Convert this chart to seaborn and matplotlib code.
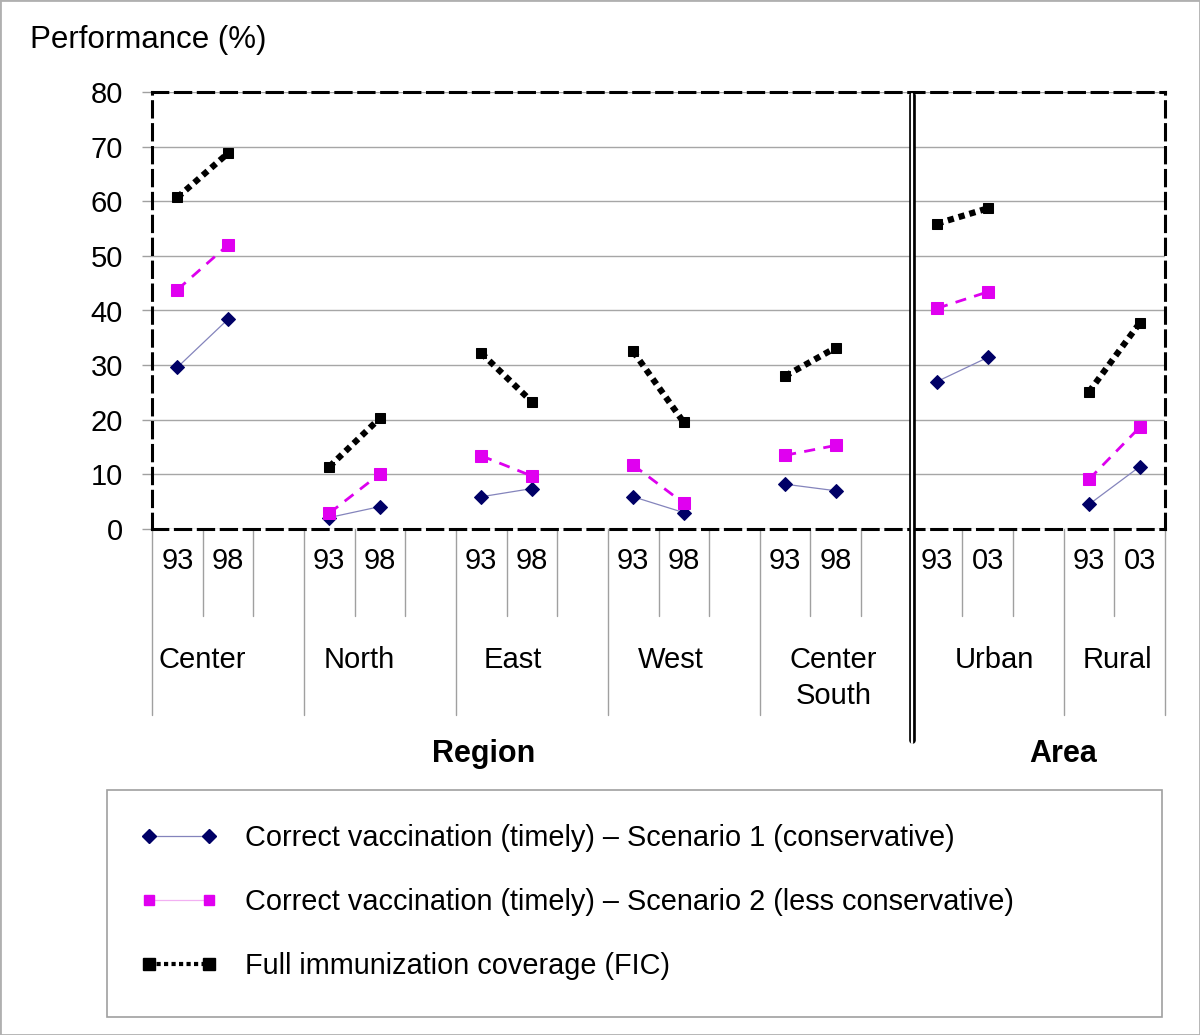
import numpy as np
import pandas as pd
import matplotlib.pyplot as plt
from matplotlib.lines import Line2D
from matplotlib.patches import Rectangle
import seaborn as sns

# Datos (primer y segundo levantamiento por grupo)
groups = ['Center', 'North', 'East', 'West', 'Center\nSouth', 'Urban', 'Rural']
year_first = ['93', '93', '93', '93', '93', '93', '93']
year_second = ['98', '98', '98', '98', '98', '03', '03']

s1_first = [29.6, 2.1, 5.9, 5.9, 8.2, 27.0, 4.5]
s1_second = [38.4, 4.1, 7.4, 3.0, 7.0, 31.4, 11.4]
s2_first = [43.8, 2.9, 13.4, 11.7, 13.5, 40.4, 9.1]
s2_second = [52.0, 10.1, 9.7, 4.7, 15.3, 43.4, 18.6]
fic_first = [60.7, 11.4, 32.2, 32.5, 28.0, 55.9, 25.1]
fic_second = [68.8, 20.3, 23.3, 19.5, 33.2, 58.7, 37.7]

labels = ['Correct vaccination (timely) \u2013 Scenario 1 (conservative)',
          'Correct vaccination (timely) \u2013 Scenario 2 (less conservative)',
          'Full immunization coverage (FIC)']

sns.set_style('white')
plt.rcParams['font.family'] = ['Liberation Sans', 'DejaVu Sans']
plt.rcParams['text.color'] = 'black'
plt.rcParams['xtick.color'] = 'black'
plt.rcParams['ytick.color'] = 'black'

# tabla larga: cada grupo ocupa 3 casillas (la tercera vacia)
rows = []
series = [('S1', s1_first, s1_second), ('S2', s2_first, s2_second), ('FIC', fic_first, fic_second)]
for name, first, second in series:
    for g in range(len(groups)):
        rows.append(dict(series=name, group=g, slot=3 * g, value=first[g]))
        rows.append(dict(series=name, group=g, slot=3 * g + 1, value=second[g]))
df = pd.DataFrame(rows)

estilos = {
    'S1': dict(color='#8484bc', lw=0.9, ls='-', marker='D', ms=6.8, mfc='#000066', mec='#000066', zorder=3),
    'S2': dict(color='#dd00ee', lw=2.0, ls=(0, (4, 3)), marker='s', ms=8.5, mfc='#e000f0', mec='#e000f0', zorder=4),
    'FIC': dict(color='black', lw=4.5, ls=(0, (1, 0.8)), marker='s', ms=7, mfc='black', mec='black', zorder=5),
}

fig = plt.figure(figsize=(12, 10.35), dpi=100)
ax = fig.add_axes([0.1267, 0.4889, 0.8441, 0.4222])

for name, _, _ in series:
    sns.lineplot(data=df[df.series == name], x='slot', y='value', units='group',
                 estimator=None, sort=False, legend=False, ax=ax, **estilos[name])

n_slots = 3 * (len(groups) - 1) + 2
ax.set_xlim(-0.5, n_slots - 0.5)
ax.set_ylim(0, 80)
ax.set_yticks(range(0, 81, 10))
ax.yaxis.grid(True, color='#a6a6a6', lw=1)
ax.set_axisbelow(True)
ax.set_xlabel('')
ax.set_ylabel('')

xt = []
xl = []
for g in range(len(groups)):
    xt += [3 * g, 3 * g + 1]
    xl += [year_first[g], year_second[g]]
ax.set_xticks(xt)
ax.set_xticklabels(xl)
ax.tick_params(axis='x', length=0, pad=13, labelsize=21)
ax.tick_params(axis='y', left=True, length=7, width=1, color='#a0a0a0', pad=14, labelsize=21)

for sp in ax.spines.values():
    sp.set_visible(True)
    sp.set_color('black')
    sp.set_linewidth(2.2)
    sp.set_linestyle((0, (5, 2.5)))

# lineas de la categoria bajo el eje
tr = ax.get_xaxis_transform()
largas = [-0.5, 2.5, 5.5, 8.5, 11.5, 17.5, n_slots - 0.5]
for x in largas:
    ax.plot([x, x], [0, -0.426], transform=tr, color='#a0a0a0', lw=1, clip_on=False, zorder=1)
cortas = [3 * g + 0.5 for g in range(len(groups))] + [3 * g + 1.5 for g in range(len(groups) - 1)]
for x in cortas:
    ax.plot([x, x], [0, -0.199], transform=tr, color='#a0a0a0', lw=1, clip_on=False, zorder=1)

# doble linea Region / Area
ax.plot([14.5, 14.5], [0.993, -0.483], transform=tr, color='black', lw=4.8, clip_on=False, zorder=6)
ax.plot([14.5, 14.5], [0.996, -0.49], transform=tr, color='white', lw=1.6, clip_on=False, zorder=7)

pos_grupos = [0.49, 3.6, 6.63, 9.75, 12.95, 16.14, 18.57]
for x, g in zip(pos_grupos, groups):
    ax.text(x, -0.268, g, transform=tr, ha='center', va='top', fontsize=21, linespacing=1.38)

ax.text(6.05, -0.515, 'Region', transform=tr, ha='center', va='center', fontsize=22, fontweight='bold')
ax.text(17.5, -0.515, 'Area', transform=tr, ha='center', va='center', fontsize=22, fontweight='bold')

fig.text(0.025, 0.9615, 'Performance (%)', fontsize=22.5, va='center', ha='left')

# leyenda
handles = [
    Line2D([0], [0], color='#8484bc', lw=0.9, marker='D', ms=7, mfc='#000066', mec='#000066'),
    Line2D([0], [0], color='#f2b0f2', lw=0.9, marker='s', ms=7.5, mfc='#e000f0', mec='#e000f0'),
    Line2D([0], [0], color='black', lw=3, ls=(0, (1, 0.8)), marker='s', ms=8, mfc='black', mec='black'),
]
fig.legend(handles, labels, loc='upper left', bbox_to_anchor=(140 / 1200, 1 - 824 / 1035),
           frameon=False, fontsize=20.8, handlelength=2.7, handletextpad=0.93,
           labelspacing=1.25, borderpad=0, borderaxespad=0, numpoints=2)
fig.add_artist(Rectangle((107 / 1200, 1 - 1017 / 1035), 1055 / 1200, 227 / 1035,
                         transform=fig.transFigure, fill=False, ec='#a0a0a0', lw=1.2))
fig.add_artist(Rectangle((0, 0), 1, 1, transform=fig.transFigure, fill=False, ec='#b0b0b0', lw=2))

fig.savefig('out.png', dpi=100)
